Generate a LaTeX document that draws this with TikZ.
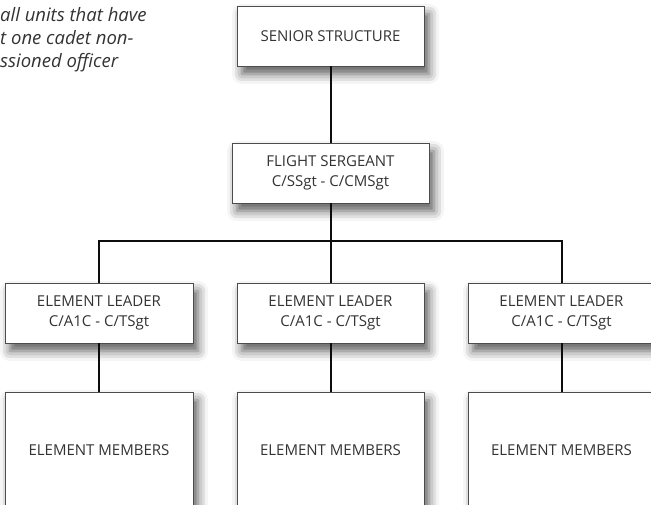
\documentclass[tikz,border=0pt]{standalone}
\usepackage{fontspec}
\setmainfont{Open Sans}
\usetikzlibrary{shadows.blur}

\colorlet{boxline}{black!70}
\colorlet{boxtext}{black!80}
\colorlet{linkcolor}{black!95}

\begin{document}
\begin{tikzpicture}[x=1pt,y=-1pt,
        unit/.style={rectangle, draw=boxline, fill=white, text=boxtext,
        line width=0.9pt, inner sep=0pt, align=center,
        font=\fontsize{15}{20}\selectfont,
        blur shadow={shadow xshift=5pt, shadow yshift=-8pt,
        shadow blur radius=10pt, shadow opacity=65}},
        note/.style={text=boxtext, inner sep=0pt, align=left,
        font=\fontsize{18.5}{23}\selectfont\itshape},
        link/.style={line width=2pt, draw=linkcolor}
        ]
    \useasboundingbox (0,0) rectangle (651,505);
        \node[note, anchor=north west] (note) at (0,7) {all units that have\\t one cadet non-\\ssioned officer};
        \node[unit, minimum width=187pt, minimum height=60pt] (senior) at (330.5,36) {SENIOR STRUCTURE};
        \node[unit, minimum width=197pt, minimum height=60pt] (flight) at (330.5,173) {FLIGHT SERGEANT\\C/SSgt - C/CMSgt};
        \node[unit, minimum width=188pt, minimum height=60pt] (lead_1) at (99,313) {ELEMENT LEADER\\C/A1C - C/TSgt};
        \node[unit, minimum width=187pt, minimum height=60pt] (lead_2) at (330.5,313) {ELEMENT LEADER\\C/A1C - C/TSgt};
        \node[unit, minimum width=187pt, minimum height=60pt] (lead_3) at (561.5,313) {ELEMENT LEADER\\C/A1C - C/TSgt};
        \node[unit, minimum width=188pt, minimum height=116pt] (memb_1) at (99,450) {ELEMENT MEMBERS};
        \node[unit, minimum width=187pt, minimum height=116pt] (memb_2) at (330.5,450) {ELEMENT MEMBERS};
        \node[unit, minimum width=187pt, minimum height=116pt] (memb_3) at (561.5,450) {ELEMENT MEMBERS};
        \coordinate (bus) at (330.5,241);
    \draw [link] (senior) -- (flight);
    \draw [link] (flight) -- (bus);
    \draw [link] (lead_1.north) |- (bus) -| (lead_3.north);
    \draw [link] (bus) -- (lead_2.north);
    \draw [link] (lead_1) -- (memb_1);
    \draw [link] (lead_2) -- (memb_2);
    \draw [link] (lead_3) -- (memb_3);
\end{tikzpicture}
\end{document}
